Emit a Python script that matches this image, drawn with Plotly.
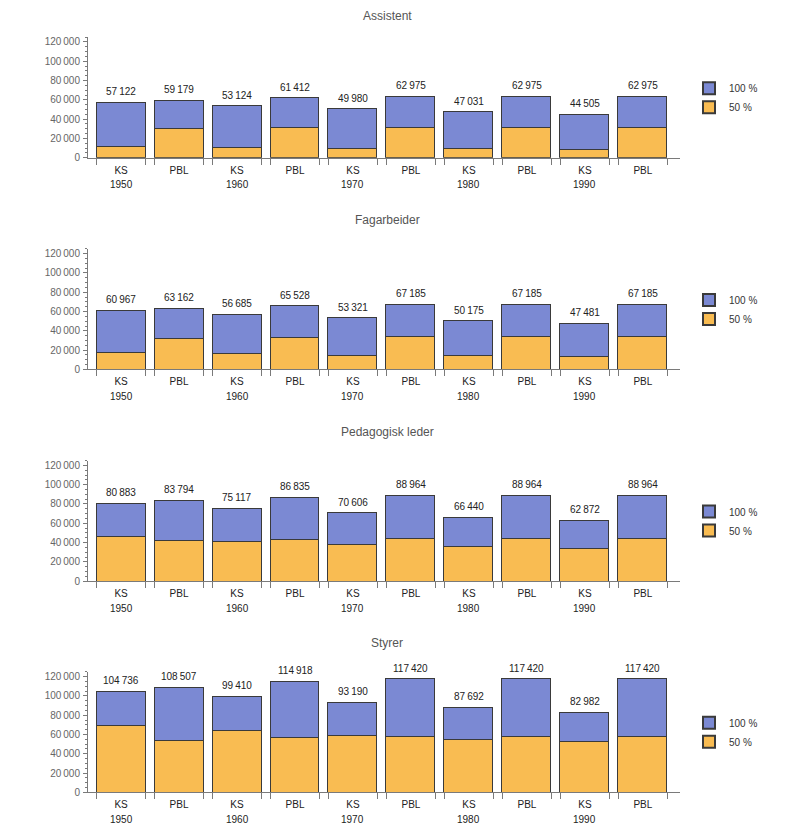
import plotly.graph_objects as go

# ---- data ----
years = [1950, 1960, 1970, 1980, 1990]
agreements = ["KS", "PBL"]
bar_labels = ["KS", "PBL", "KS", "PBL", "KS", "PBL", "KS", "PBL", "KS", "PBL"]
panel_titles = ["Assistent", "Fagarbeider", "Pedagogisk leder", "Styrer"]
series_names = ["100 %", "50 %"]

assistent_total = [57122, 59179, 53124, 61412, 49980, 62975, 47031, 62975, 44505, 62975]
assistent_50 = [11500, 29600, 10400, 30500, 9400, 31200, 9400, 31200, 8300, 31200]

fagarbeider_total = [60967, 63162, 56685, 65528, 53321, 67185, 50175, 67185, 47481, 67185]
fagarbeider_50 = [17500, 31800, 16200, 32900, 14400, 33800, 14100, 33800, 13400, 33800]

pedagogisk_total = [80883, 83794, 75117, 86835, 70606, 88964, 66440, 88964, 62872, 88964]
pedagogisk_50 = [46700, 41800, 41500, 43600, 38400, 44500, 36300, 44500, 34200, 44500]

styrer_total = [104736, 108507, 99410, 114918, 93190, 117420, 87692, 117420, 82982, 117420]
styrer_50 = [69300, 53800, 63400, 56900, 59000, 57900, 54800, 57900, 52800, 57900]

y_ticks = [0, 20000, 40000, 60000, 80000, 100000, 120000]

totals = [assistent_total, fagarbeider_total, pedagogisk_total, styrer_total]
halves = [assistent_50, fagarbeider_50, pedagogisk_50, styrer_50]

# ---- style ----
PAGE_PAD = 8            # default page margin of the html body
W, H = 784, 826
VSCALE = 0.9905
VOFF = 9.4
BLUE = "#7b89d3"
ORANGE = "#f9bc52"
EDGE = "#3a3a3a"
AXIS = "#7a7a7a"
FONT = "Liberation Sans, Arial, sans-serif"
BARW = 0.845

axis_px = [158, 369.5, 581, 792]   # target positions in the 800x830 picture
plot_h = 120.5
x0_px, x1_px = 88, 680

def fig_y(px):
    return (px - VOFF) / VSCALE

def py(px):
    return 1 - fig_y(px) / H

def pxx(px):
    return (px - PAGE_PAD) / W

def fmt(v):
    return f"{v:,}".replace(",", "\u2009")

xpos = list(range(len(bar_labels)))

fig = go.Figure()
annotations = []
layout = {}
for k in range(4):
    sfx = "" if k == 0 else str(k + 1)
    xa, ya = "x" + sfx, "y" + sfx
    leg = "legend" + sfx
    blue_vals = [t - h for t, h in zip(totals[k], halves[k])]
    fig.add_trace(go.Bar(
        x=xpos, y=halves[k], name=series_names[1], xaxis=xa, yaxis=ya,
        marker=dict(color=ORANGE, line=dict(color=EDGE, width=1)),
        width=BARW, legend=leg, hoverinfo="skip"))
    fig.add_trace(go.Bar(
        x=xpos, y=blue_vals, name=series_names[0], xaxis=xa, yaxis=ya,
        marker=dict(color=BLUE, line=dict(color=EDGE, width=1)),
        width=BARW, legend=leg, hoverinfo="skip"))
    for i, t in zip(xpos, totals[k]):
        annotations.append(dict(
            text=fmt(t), x=i, y=t, xref=xa, yref=ya, showarrow=False,
            xanchor="center", yanchor="middle", yshift=11,
            font=dict(family=FONT, size=10, color="#222")))
    bottom = py(axis_px[k])
    top = py(axis_px[k] - plot_h)
    edges = []
    for i in xpos:
        edges += [i - BARW / 2, i + BARW / 2]
    layout["xaxis" + sfx] = dict(
        domain=[pxx(x0_px), pxx(x1_px)], anchor=ya, range=[-0.57, 9.64],
        tickmode="array", tickvals=xpos, ticktext=bar_labels, ticks="",
        ticklabelstandoff=3,
        showline=True, linecolor=AXIS, linewidth=1, showgrid=False, zeroline=False,
        tickfont=dict(family=FONT, size=10, color="#222"),
        minor=dict(tickmode="array", tickvals=edges, ticks="outside",
                   ticklen=6, tickcolor=AXIS, showgrid=False),
        fixedrange=True)
    layout["yaxis" + sfx] = dict(
        domain=[bottom, top], anchor=xa, range=[0, 125000],
        tickmode="array", tickvals=y_ticks, tickformat=",d",
        ticks="outside", ticklen=4, tickcolor=AXIS, ticklabelstandoff=1,
        minor=dict(dtick=5000, tick0=0, ticks="outside", ticklen=2, tickcolor=AXIS, showgrid=False),
        showline=True, linecolor=AXIS, linewidth=1, showgrid=False, zeroline=False,
        tickfont=dict(family=FONT, size=10, color="#666"),
        fixedrange=True)
    layout[leg] = dict(
        x=pxx(689), y=py(axis_px[k] - 84), xanchor="left", yanchor="top",
        traceorder="reversed", bgcolor="rgba(0,0,0,0)",
        font=dict(family=FONT, size=10, color="#333"), itemsizing="constant")
    title_y = max(axis_px[k] - 149, 16)
    annotations.append(dict(
        text=panel_titles[k], x=pxx((x0_px + x1_px) / 2 + 3), y=py(title_y),
        xref="paper", yref="paper", showarrow=False, xanchor="center", yanchor="middle",
        font=dict(family=FONT, size=12, color="#555")))
    for j, yr in enumerate(years):
        annotations.append(dict(
            text=str(yr), x=2 * j, y=py(axis_px[k] + 27), xref=xa, yref="paper",
            showarrow=False, xanchor="center", yanchor="middle",
            font=dict(family=FONT, size=10, color="#222")))

fig.update_layout(
    width=W, height=H, barmode="stack", bargap=0,
    margin=dict(l=0, r=0, t=0, b=0),
    paper_bgcolor="white", plot_bgcolor="white",
    separators=".\u2009",
    annotations=annotations,
    **layout)

fig.write_html("out.html")
